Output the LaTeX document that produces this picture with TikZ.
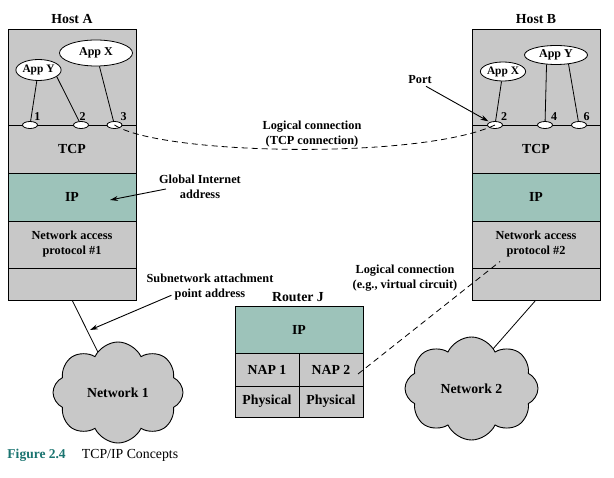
\documentclass[tikz,border=0pt]{standalone}
\usepackage{fontspec}
\setmainfont{Liberation Serif}
\usetikzlibrary{shapes.symbols,shapes.geometric,arrows.meta,backgrounds,calc}
\definecolor{boxgray}{HTML}{C8C8C8}
\definecolor{ipteal}{HTML}{9DC3BA}
\definecolor{capteal}{HTML}{1A7470}
\newcommand\mylabfont{\fontsize{13.8}{15.5}\selectfont\bfseries}
\newcommand\mynotefont{\fontsize{12.3}{15}\selectfont\bfseries}
\newcommand\myappsmall{\fontsize{11.4}{13}\selectfont\bfseries}
\newcommand\myappbig{\fontsize{12}{13}\selectfont\bfseries}
\tikzset{
  layer/.style={draw, line width=0.9pt, fill=boxgray, minimum width=128pt,
    inner sep=0pt, outer sep=0pt, anchor=north west, font=\mylabfont, align=center},
  iplayer/.style={layer, fill=ipteal},
  port/.style={ellipse, draw, fill=white, line width=0.8pt, minimum width=15pt,
    minimum height=7pt, inner sep=0pt},
  app/.style={ellipse, draw, fill=white, line width=0.8pt, inner sep=0pt, font=\myappsmall},
  note/.style={font=\mynotefont, align=center, inner sep=1pt},
  numlbl/.style={font=\myappbig, inner sep=0pt},
  link/.style={line width=0.8pt},
  arrowlink/.style={line width=0.9pt, -{Stealth[length=8pt,width=5pt]}},
  dashlink/.style={line width=0.8pt, dash pattern=on 6pt off 4pt},
  net/.style={cloud, cloud puffs=8, cloud puff arc=130, cloud ignores aspect, draw,
    fill=boxgray, line width=0.9pt, font=\mylabfont, inner sep=0pt}
}
\begin{document}
\begin{tikzpicture}[x=1pt,y=-1pt]
\useasboundingbox (0,0) rectangle (614,478);

% Host A
\node[font=\mylabfont] (hostA-lbl) at (72,19) {Host A};
\node[layer, minimum height=96pt] (hostA-app) at (8,29) {};
\node[layer, minimum height=48pt] (hostA-tcp) at (8,125) {TCP};
\node[iplayer, minimum height=48pt] (hostA-ip) at (8,173) {IP};
\node[layer, minimum height=47pt, font=\mynotefont] (hostA-nap) at (8,221) {Network access\\protocol \#1};
\node[layer, minimum height=32pt] (hostA-bot) at (8,268) {};

% Host B
\node[font=\mylabfont] (hostB-lbl) at (536,19) {Host B};
\node[layer, minimum height=96pt] (hostB-app) at (472,29) {};
\node[layer, minimum height=48pt] (hostB-tcp) at (472,125) {TCP};
\node[iplayer, minimum height=48pt] (hostB-ip) at (472,173) {IP};
\node[layer, minimum height=47pt, font=\mynotefont] (hostB-nap) at (472,221) {Network access\\protocol \#2};
\node[layer, minimum height=32pt] (hostB-bot) at (472,268) {};

% Router J
\node[font=\mylabfont] (rlbl) at (298,297) {Router J};
\node[iplayer, minimum height=47pt] (r-ip) at (235,306) {IP};
\node[layer, minimum width=64pt, minimum height=33pt] (r-nap1) at (235,353) {NAP 1};
\node[layer, minimum width=64pt, minimum height=33pt] (r-nap2) at (299,353) {NAP 2};
\node[layer, minimum width=64pt, minimum height=31pt] (r-phy1) at (235,386) {Physical};
\node[layer, minimum width=64pt, minimum height=31pt] (r-phy2) at (299,386) {Physical};

% Networks
\node[net, minimum width=130pt, minimum height=101pt] (net1) at (118,392.5) {Network 1};
\node[net, minimum width=133pt, minimum height=103pt] (net2) at (471.5,388.5) {Network 2};

% connectors behind
\coordinate (n2in) at (478,366);
\begin{scope}[on background layer]
\draw[link] (hostA-bot.south) -- (net1.center);
\draw[link] (hostB-bot.south) -- (n2in);
\draw[link] ($(r-phy1.south west)+(0,-8)$) -- ($(r-phy1.south west)+(0,-8)$ -| net1.center);
\draw[link] ($(r-phy2.south east)+(0,-8)$) -- ($(r-phy2.south east)+(0,-8)$ -| net2.center);
\end{scope}

% Apps and ports, host A
\node[app, minimum width=43pt, minimum height=21pt] (appYA) at (38.5,70) {App Y};
\node[app, minimum width=73pt, minimum height=26pt, font=\myappbig] (appXA) at (96,53) {App X};
\node[port] (pA1) at (30,125) {};
\node[port] (pA2) at (81,125) {};
\node[port] (pA3) at (114.5,125) {};
\node[numlbl] (nA1) at (37.3,116.5) {1};
\node[numlbl] (nA2) at (82.7,116.5) {2};
\node[numlbl] (nA3) at (123.7,116.5) {3};
\draw[link] (appYA) -- (pA1);
\draw[link] (appYA.-20) -- (pA2);
\draw[link] (appXA) -- (pA3);

% Apps and ports, host B
\node[app, minimum width=42pt, minimum height=19pt] (appXB) at (503,71.5) {App X};
\node[app, minimum width=63pt, minimum height=19pt, font=\myappbig] (appYB) at (556,55) {App Y};
\node[port] (pB2) at (495,125) {};
\node[port] (pB4) at (545,125) {};
\node[port] (pB6) at (579,125) {};
\node[numlbl] (nB2) at (504,116.5) {2};
\node[numlbl] (nB4) at (554,116.5) {4};
\node[numlbl] (nB6) at (586.7,116.5) {6};
\draw[link] (appXB) -- (pB2);
\draw[link] (appYB.-135) -- (pB4);
\draw[link] (appYB.-36) -- (pB6);

% logical connections
\draw[dashlink] (pA3.center) .. controls (160,155) and (420,160) .. (pB2.center);
\node[note] (lc1) at (312,134) {Logical connection\\(TCP connection)};
\node[note] (lc2) at (405,278) {Logical connection\\(e.g., virtual circuit)};
\draw[dashlink] ($(r-nap2.center)+(27,4.5)$) -- ($(hostB-nap.center)+(-36,17)$);

% annotations
\node[note] (portlbl) at (420,80) {Port};
\draw[arrowlink, shorten >=1.5pt] ($(portlbl.south)+(6,1)$) -- (pB2);
\node[note] (gia) at (200,187) {Global Internet\\address};
\coordinate (gia-tip) at (110,200);
\draw[arrowlink] ($(gia.west)+(8,2)$) -- (gia-tip);
\node[note] (sna) at (210,287) {Subnetwork attachment\\point address};
\coordinate (sna-tip) at (90,330);
\draw[arrowlink] ($(sna.south west)+(26,-6)$) -- (sna-tip);

% caption
\node[anchor=base west, inner sep=0pt, font=\fontsize{13.5}{15}\selectfont\bfseries, text=capteal] (cap1) at (7.3,459) {Figure 2.4};
\node[anchor=base west, inner sep=0pt, font=\fontsize{13.8}{15}\selectfont] (cap2) at (81.7,459) {TCP/IP Concepts};
\end{tikzpicture}
\end{document}
